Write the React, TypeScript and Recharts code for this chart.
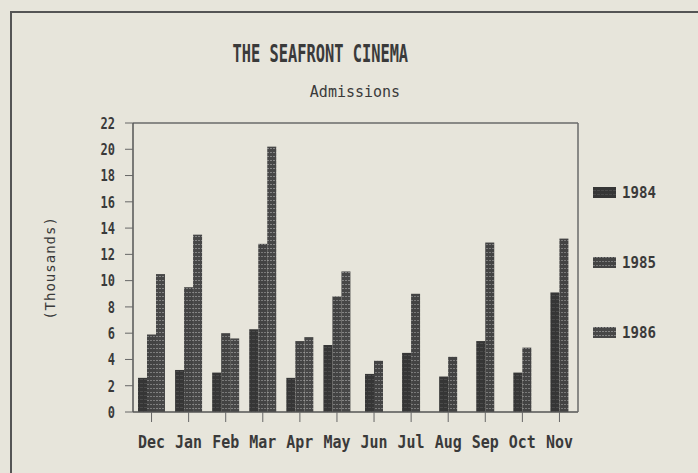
import { BarChart, Bar, XAxis, YAxis, Legend } from "recharts";

// Cinema admissions (thousands)
const months = ["Dec", "Jan", "Feb", "Mar", "Apr", "May", "Jun", "Jul", "Aug", "Sep", "Oct", "Nov"];
const admissions1984 = [2.6, 3.2, 3.0, 6.3, 2.6, 5.1, 2.9, 4.5, 2.7, 5.4, 3.0, 9.1];
const admissions1985 = [5.9, 9.5, 6.0, 12.8, 5.4, 8.8, 3.9, 9.0, 4.2, 12.9, 4.9, 13.2];
const admissions1986 = [10.5, 13.5, 5.6, 20.2, 5.7, 10.7, null, null, null, null, null, null];
const yTicks = [0, 2, 4, 6, 8, 10, 12, 14, 16, 18, 20, 22];

const data = months.map((month, i) => ({
  month,
  y1984: admissions1984[i],
  y1985: admissions1985[i],
  y1986: admissions1986[i],
}));

const PAPER = "#e7e5db";
const INK = "#3a3a3a";
const MONO = "'DejaVu Sans Mono', monospace";

// when there is no 1986 value the remaining two bars sit centred on the tick
const ShiftedBar = (props: any) => {
  const { x, y, width, height, fill, payload } = props;
  if (!height || height <= 0) return null;
  const shift = payload.y1986 == null ? width / 2 : 0;
  return <rect x={x + shift} y={y} width={width} height={height} fill={fill} />;
};

const MonthTick = ({ x, y, payload }: any) => (
  <text
    transform={`translate(${x},${y}) scale(0.88,1)`}
    dy={12.5}
    textAnchor="middle"
    fontFamily={MONO}
    fontWeight="bold"
    fontSize={17}
    fill={INK}
  >
    {payload.value}
  </text>
);

const ValueTick = ({ x, y, payload }: any) => (
  <text
    transform={`translate(${x},${y}) scale(0.75,1)`}
    dy={5.8}
    textAnchor="end"
    fontFamily={MONO}
    fontWeight="bold"
    fontSize={16}
    fill={INK}
  >
    {payload.value}
  </text>
);

const LegendBox = ({ payload }: any) => (
  <div>
    {(payload || []).map((entry: any) => (
      <div key={entry.value} style={{ height: 70, display: "flex", alignItems: "center" }}>
        <svg width={23} height={11} style={{ marginRight: 6 }}>
          <rect width={23} height={11} fill={entry.color} />
        </svg>
        <span
          style={{
            display: "inline-block",
            fontFamily: MONO,
            fontWeight: "bold",
            fontSize: 16,
            color: INK,
            transform: "scaleX(0.88)",
            transformOrigin: "left center",
          }}
        >
          {entry.value}
        </span>
      </div>
    ))}
  </div>
);

export default function App() {
  return (
    <div
      style={{
        position: "absolute",
        left: 0,
        top: 0,
        width: 698,
        height: 473,
        background: PAPER,
        overflow: "hidden",
      }}
    >
      <svg width={0} height={0} style={{ position: "absolute" }}>
        <defs>
          <pattern id="p1984" width="4" height="4" patternUnits="userSpaceOnUse">
            <rect width="4" height="4" fill="#363636" />
            <rect y="3" width="3" height="1" fill="#4a4a4a" />
          </pattern>
          <pattern id="p1985" width="3" height="4" patternUnits="userSpaceOnUse">
            <rect width="3" height="4" fill="#434343" />
            <rect y="0" width="2" height="1" fill="#7a7a7a" />
          </pattern>
          <pattern id="p1986" width="3" height="4" patternUnits="userSpaceOnUse">
            <rect width="3" height="4" fill="#474747" />
            <rect y="0" width="2" height="1" fill="#858585" />
          </pattern>
        </defs>
      </svg>

      {/* page frame */}
      <div
        style={{
          position: "absolute",
          left: 10,
          top: 11,
          width: 700,
          height: 480,
          borderTop: "2px solid #555",
          borderLeft: "2px solid #555",
        }}
      />

      <div
        style={{
          position: "absolute",
          left: 0,
          top: 42,
          width: 640,
          textAlign: "center",
          lineHeight: "24px",
        }}
      >
        <span
          style={{
            display: "inline-block",
            fontFamily: MONO,
            fontWeight: "bold",
            fontSize: 24,
            color: INK,
            transform: "scaleX(0.64)",
          }}
        >
          THE SEAFRONT CINEMA
        </span>
      </div>
      <div
        style={{
          position: "absolute",
          left: 0,
          top: 85,
          width: 710,
          textAlign: "center",
          lineHeight: "15px",
          fontFamily: MONO,
          fontSize: 15,
          color: INK,
        }}
      >
        Admissions
      </div>

      <BarChart
        width={698}
        height={473}
        data={data}
        margin={{ top: 122, right: 119, bottom: 0, left: 60 }}
        barSize={9}
        barGap={0}
        style={{ position: "absolute", left: 0, top: 0 }}
      >
        <XAxis
          dataKey="month"
          height={61}
          interval={0}
          tick={<MonthTick />}
          tickSize={10}
          tickMargin={13}
          axisLine={{ stroke: "#555", strokeWidth: 1.5 }}
          tickLine={{ stroke: "#666" }}
        />
        <XAxis
          xAxisId="top"
          orientation="top"
          dataKey="month"
          height={1}
          tick={false}
          tickLine={false}
          axisLine={{ stroke: "#6a6a6a", strokeWidth: 1.5 }}
        />
        <YAxis
          domain={[0, 22]}
          ticks={yTicks}
          interval={0}
          width={73}
          tick={<ValueTick />}
          tickSize={8}
          tickMargin={10}
          axisLine={{ stroke: "#555", strokeWidth: 1.5 }}
          tickLine={{ stroke: "#666" }}
          label={{
            content: () => (
              <text
                x={50}
                y={268}
                transform="rotate(-90 50 268)"
                textAnchor="middle"
                dominantBaseline="central"
                fontFamily={MONO}
                fontSize={14}
                letterSpacing={1}
                fill={INK}
              >
                (Thousands)
              </text>
            ),
          }}
        />
        <YAxis
          yAxisId="right"
          orientation="right"
          domain={[0, 22]}
          width={1}
          tick={false}
          tickLine={false}
          axisLine={{ stroke: "#6a6a6a", strokeWidth: 1.5 }}
        />
        <Legend
          layout="horizontal"
          align="center"
          verticalAlign="middle"
          content={<LegendBox />}
          wrapperStyle={{ left: 593, top: 157, width: 100 }}
        />
        <Bar dataKey="y1984" name="1984" fill="url(#p1984)" shape={ShiftedBar} isAnimationActive={false} />
        <Bar dataKey="y1985" name="1985" fill="url(#p1985)" shape={ShiftedBar} isAnimationActive={false} />
        <Bar dataKey="y1986" name="1986" fill="url(#p1986)" shape={ShiftedBar} isAnimationActive={false} />
      </BarChart>
    </div>
  );
}
